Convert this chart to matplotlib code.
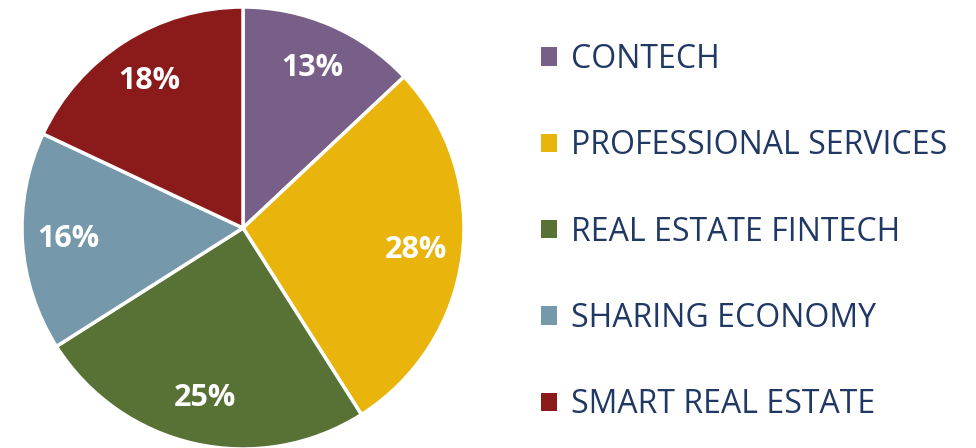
import matplotlib
matplotlib.use("Agg")
import matplotlib.pyplot as plt

# data
categories = ["CONTECH", "PROFESSIONAL SERVICES", "REAL ESTATE FINTECH",
              "SHARING ECONOMY", "SMART REAL ESTATE"]
shares = [13, 28, 25, 16, 18]
colors = ["#775F87", "#E9B50C", "#587236", "#7698AB", "#8B1A1B"]

plt.rcParams["font.family"] = ["Open Sans", "DejaVu Sans"]

W, H = 976, 448
fig = plt.figure(figsize=(W / 100, H / 100), dpi=100)

cx, cy, r = 243, 220, 221
ax = fig.add_axes([(cx - r) / W, (cy - r) / H, 2 * r / W, 2 * r / H])

wedges, texts, autotexts = ax.pie(
    shares, colors=colors, startangle=90, counterclock=False,
    autopct="%d%%", pctdistance=0.79,
    wedgeprops=dict(edgecolor="white", linewidth=2.5),
    textprops=dict(color="white", fontsize=22, fontweight="bold"),
)
ax.set_xlim(-1, 1)
ax.set_ylim(-1, 1)
ax.set_aspect("equal")

leg = fig.legend(
    wedges, categories, loc="center left",
    bbox_to_anchor=(541 / W, 216 / H), frameon=False,
    fontsize=23, labelcolor="#203864",
    borderpad=0, borderaxespad=0,
    handlelength=0.5, handleheight=0.5, handletextpad=0.45,
    labelspacing=1.67,
)
for h in leg.legend_handles:
    h.set_edgecolor("none")

fig.savefig("out.png", dpi=100)
